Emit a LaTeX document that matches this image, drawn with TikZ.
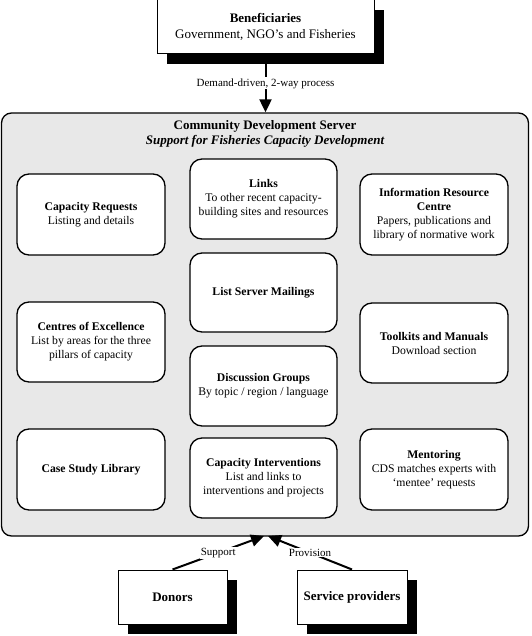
\documentclass[tikz,border=0pt]{standalone}
\usepackage{fontspec}
\setmainfont{Liberation Serif}
\usetikzlibrary{arrows.meta,shadows}
\begin{document}
\begin{tikzpicture}[x=1pt,y=-1pt,
 ibox/.style={draw, line width=1.3pt, rounded corners=12pt, fill=white, align=center,
   font=\fontsize{11.7}{14}\selectfont, inner sep=2pt},
 sbox/.style={draw, line width=1pt, fill=white, align=center,
   drop shadow={shadow xshift=10pt, shadow yshift=-10pt, fill=black, opacity=1}},
 lab/.style={fill=white, font=\fontsize{11}{13}\selectfont, inner sep=1pt},
 arr/.style={line width=2pt, -{Triangle[length=13pt,width=12pt]}}
]
\useasboundingbox (0,0) rectangle (531,636);

% server
\node[draw, line width=1.3pt, fill=gray!18, rounded corners=10pt,
  minimum width=527pt, minimum height=423pt] (srv) at (265,324.5) {};
\node[font=\fontsize{13}{15}\selectfont\bfseries] (t1) at (265,126) {Community Development Server};
\node[font=\fontsize{13}{15}\selectfont\bfseries\itshape] (t2) at (265,141) {Support for Fisheries Capacity Development};

% beneficiaries
\node[sbox, minimum width=217pt, minimum height=54pt, font=\fontsize{13}{16}\selectfont] (ben) at (265.5,27)
  {\textbf{Beneficiaries}\\Government, NGO’s and Fisheries};
\draw[arr] (ben.south) -- (ben.south |- srv.north)
  node[lab, midway] (l1) {Demand-driven, 2-way process};

% inner boxes
\node[ibox, minimum width=148pt, minimum height=81pt] (cr) at (91,214.5)
  {\textbf{Capacity Requests}\\Listing and details};
\node[ibox, minimum width=147pt, minimum height=80pt] (lk) at (263.5,199)
  {\textbf{Links}\\To other recent capacity-\\building sites and resources};
\node[ibox, minimum width=148pt, minimum height=81pt] (irc) at (434,214.5)
  {\textbf{Information Resource}\\\textbf{Centre}\\Papers, publications and\\library of normative work};
\node[ibox, minimum width=147pt, minimum height=79pt] (lsm) at (263.5,292.5)
  {\textbf{List Server Mailings}};
\node[ibox, minimum width=148pt, minimum height=80pt] (coe) at (91,342)
  {\textbf{Centres of Excellence}\\List by areas for the three\\pillars of capacity};
\node[ibox, minimum width=148pt, minimum height=80pt] (tk) at (434,343)
  {\textbf{Toolkits and Manuals}\\Download section};
\node[ibox, minimum width=147pt, minimum height=80pt] (dg) at (263.5,386)
  {\textbf{Discussion Groups}\\By topic / region / language};
\node[ibox, minimum width=148pt, minimum height=81pt] (csl) at (91,469.5)
  {\textbf{Case Study Library}};
\node[ibox, minimum width=147pt, minimum height=80pt] (ci) at (263.5,478)
  {\textbf{Capacity Interventions}\\List and links to\\interventions and projects};
\node[ibox, minimum width=148pt, minimum height=81pt] (men) at (434,469.5)
  {\textbf{Mentoring}\\CDS matches experts with\\‘mentee’ requests};

% bottom
\node[sbox, minimum width=109pt, minimum height=54pt, font=\fontsize{13}{15}\selectfont\bfseries] (don) at (172.5,597) {Donors};
\node[sbox, minimum width=110pt, minimum height=54pt, font=\fontsize{13}{15}\selectfont\bfseries] (sp) at (352,597) {Service providers};
\coordinate (tipL) at (264,536);
\coordinate (tipR) at (268,536);
\draw[arr] (don.north) -- (tipL) node[lab, midway] (l2) {Support};
\draw[arr] (sp.north) -- (tipR) node[lab, midway] (l3) {Provision};
\end{tikzpicture}
\end{document}
